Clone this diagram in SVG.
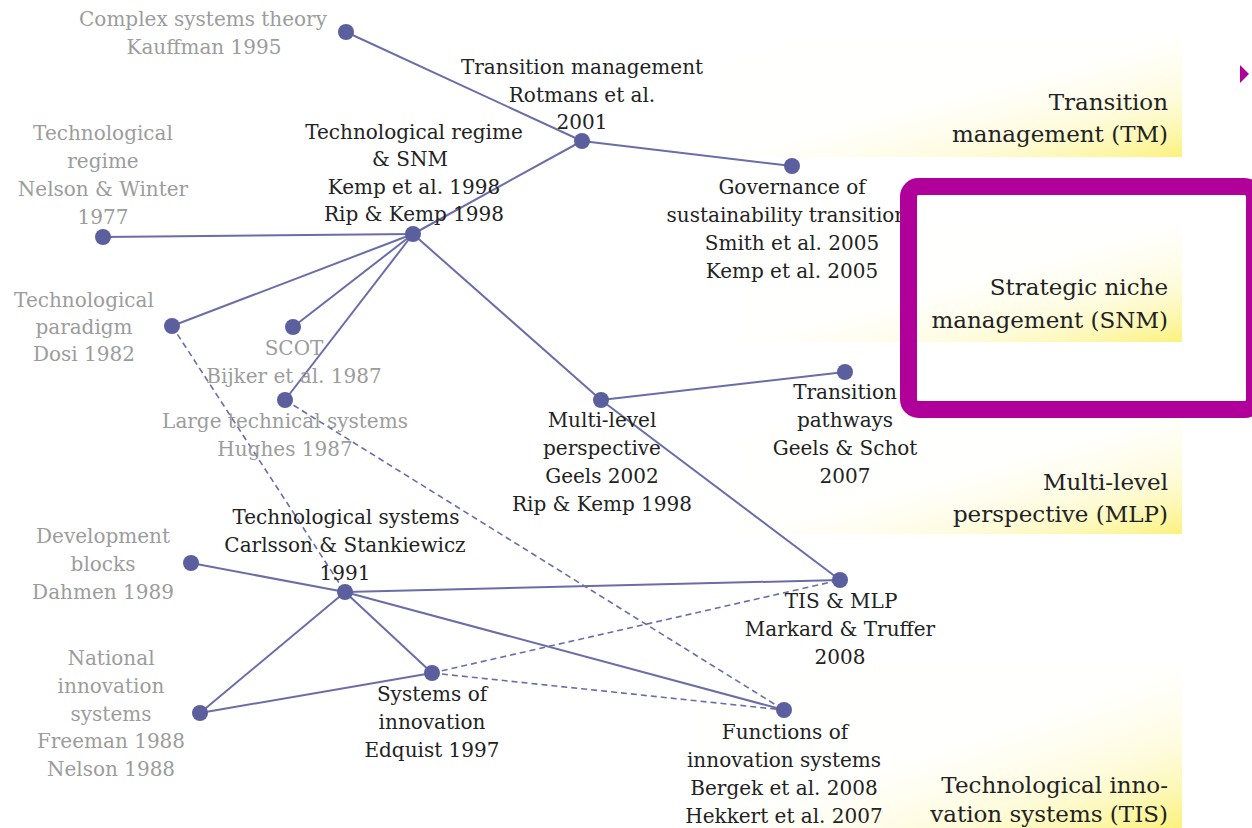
<svg xmlns="http://www.w3.org/2000/svg" width="1252" height="828" viewBox="0 0 1252 828">
<defs>
<linearGradient id="band" x1="0" y1="0" x2="1" y2="1">
<stop offset="0" stop-color="#fffbd0" stop-opacity="0"/>
<stop offset="0.5" stop-color="#fffbd0" stop-opacity="0.05"/>
<stop offset="0.75" stop-color="#fdf7b0" stop-opacity="0.45"/>
<stop offset="1" stop-color="#fbf27c" stop-opacity="1"/>
</linearGradient>
<style>
.n{font-family:"DejaVu Serif","Liberation Serif",serif;font-size:20px;text-anchor:middle;fill:#222}
.g{fill:#9c9c9c}
.b{font-family:"DejaVu Serif","Liberation Serif",serif;font-size:23px;text-anchor:end;fill:#222}
.e{stroke:#6a6da8;stroke-width:2;fill:none}
.d{stroke:#6a6da8;stroke-width:1.6;fill:none;stroke-dasharray:6 4}
.dot{fill:#5c5f9e}
</style>
</defs>
<rect width="1252" height="828" fill="#fff"/>
<g id="bands">
<rect x="720" y="35" width="462" height="122" fill="url(#band)"/>
<rect x="740" y="222" width="442" height="120" fill="url(#band)"/>
<rect x="740" y="410" width="442" height="124" fill="url(#band)"/>
<rect x="700" y="665" width="482" height="163" fill="url(#band)"/>
<text class="b" x="1168" y="110">Transition</text>
<text class="b" x="1168" y="142">management (TM)</text>
<text class="b" x="1168" y="295">Strategic niche</text>
<text class="b" x="1168" y="328">management (SNM)</text>
<text class="b" x="1168" y="490">Multi-level</text>
<text class="b" x="1168" y="522">perspective (MLP)</text>
<text class="b" x="1168" y="793">Technological inno-</text>
<text class="b" x="1168" y="822">vation systems (TIS)</text>
</g>
<g id="connectors">
<line class="e" x1="346" y1="32" x2="582" y2="141"/>
<line class="e" x1="582" y1="141" x2="792" y2="166"/>
<line class="e" x1="582" y1="141" x2="413" y2="234"/>
<line class="e" x1="103" y1="237" x2="413" y2="234"/>
<line class="e" x1="172" y1="326" x2="413" y2="234"/>
<line class="e" x1="293" y1="327" x2="413" y2="234"/>
<line class="e" x1="285" y1="400" x2="413" y2="234"/>
<line class="e" x1="413" y1="234" x2="601" y2="400"/>
<line class="e" x1="601" y1="400" x2="840" y2="580"/>
<line class="e" x1="601" y1="400" x2="845" y2="372"/>
<line class="e" x1="191" y1="563" x2="345" y2="592"/>
<line class="e" x1="345" y1="592" x2="840" y2="580"/>
<line class="e" x1="345" y1="592" x2="784" y2="710"/>
<line class="e" x1="345" y1="592" x2="432" y2="673"/>
<line class="e" x1="345" y1="592" x2="200" y2="713"/>
<line class="e" x1="200" y1="713" x2="432" y2="673"/>
<line class="d" x1="172" y1="326" x2="345" y2="592"/>
<line class="d" x1="285" y1="400" x2="784" y2="710"/>
<line class="d" x1="432" y1="673" x2="840" y2="580"/>
<line class="d" x1="432" y1="673" x2="784" y2="710"/>
</g>
<g id="n-complex"><circle class="dot" cx="346" cy="32" r="8"/><text class="n g" x="203" y="26">Complex systems theory</text><text class="n g" x="204" y="54">Kauffman 1995</text></g>
<g id="n-tm"><circle class="dot" cx="582" cy="141" r="8"/><text class="n" x="582" y="74">Transition management</text><text class="n" x="582" y="102">Rotmans et al.</text><text class="n" x="582" y="129">2001</text></g>
<g id="n-gov"><circle class="dot" cx="792" cy="166" r="8"/><text class="n" x="792" y="194">Governance of</text><text class="n" x="792" y="222">sustainability transitions</text><text class="n" x="792" y="250">Smith et al. 2005</text><text class="n" x="792" y="278">Kemp et al. 2005</text></g>
<g id="n-trsnm"><circle class="dot" cx="413" cy="234" r="8"/><text class="n" x="414" y="139">Technological regime</text><text class="n" x="410" y="166">&amp; SNM</text><text class="n" x="414" y="194">Kemp et al. 1998</text><text class="n" x="414" y="221">Rip &amp; Kemp 1998</text></g>
<g id="n-nw"><circle class="dot" cx="103" cy="237" r="8"/><text class="n g" x="103" y="140">Technological</text><text class="n g" x="103" y="168">regime</text><text class="n g" x="103" y="196">Nelson &amp; Winter</text><text class="n g" x="103" y="224">1977</text></g>
<g id="n-paradigm"><circle class="dot" cx="172" cy="326" r="8"/><text class="n g" x="84" y="307">Technological</text><text class="n g" x="84" y="334">paradigm</text><text class="n g" x="84" y="361">Dosi 1982</text></g>
<g id="n-scot"><circle class="dot" cx="293" cy="327" r="8"/><text class="n g" x="294" y="355">SCOT</text><text class="n g" x="294" y="383">Bijker et al. 1987</text></g>
<g id="n-lts"><circle class="dot" cx="285" cy="400" r="8"/><text class="n g" x="285" y="428">Large technical systems</text><text class="n g" x="285" y="456">Hughes 1987</text></g>
<g id="n-mlp"><circle class="dot" cx="601" cy="400" r="8"/><text class="n" x="602" y="427">Multi-level</text><text class="n" x="602" y="455">perspective</text><text class="n" x="602" y="483">Geels 2002</text><text class="n" x="602" y="511">Rip &amp; Kemp 1998</text></g>
<g id="n-tp"><circle class="dot" cx="845" cy="372" r="8"/><text class="n" x="845" y="399">Transition</text><text class="n" x="845" y="427">pathways</text><text class="n" x="845" y="455">Geels &amp; Schot</text><text class="n" x="845" y="483">2007</text></g>
<g id="n-ts"><circle class="dot" cx="345" cy="592" r="8"/><text class="n" x="346" y="524">Technological systems</text><text class="n" x="345" y="552">Carlsson &amp; Stankiewicz</text><text class="n" x="345" y="580">1991</text></g>
<g id="n-dev"><circle class="dot" cx="191" cy="563" r="8"/><text class="n g" x="103" y="543">Development</text><text class="n g" x="103" y="571">blocks</text><text class="n g" x="103" y="599">Dahmen 1989</text></g>
<g id="n-tismlp"><circle class="dot" cx="840" cy="580" r="8"/><text class="n" x="841" y="608">TIS &amp; MLP</text><text class="n" x="840" y="636">Markard &amp; Truffer</text><text class="n" x="840" y="664">2008</text></g>
<g id="n-nis"><circle class="dot" cx="200" cy="713" r="8"/><text class="n g" x="111" y="665">National</text><text class="n g" x="111" y="693">innovation</text><text class="n g" x="111" y="721">systems</text><text class="n g" x="111" y="748">Freeman 1988</text><text class="n g" x="111" y="776">Nelson 1988</text></g>
<g id="n-soi"><circle class="dot" cx="432" cy="673" r="8"/><text class="n" x="432" y="701">Systems of</text><text class="n" x="432" y="729">innovation</text><text class="n" x="432" y="757">Edquist 1997</text></g>
<g id="n-fis"><circle class="dot" cx="784" cy="710" r="8"/><text class="n" x="785" y="739">Functions of</text><text class="n" x="784" y="767">innovation systems</text><text class="n" x="784" y="795">Bergek et al. 2008</text><text class="n" x="784" y="823">Hekkert et al. 2007</text></g>
<g id="highlight">
<rect x="908.5" y="186.5" width="346" height="223" rx="10" fill="none" stroke="#b1009a" stroke-width="17"/>
<polygon points="1240,65 1249,74 1240,83" fill="#b1009a"/>
</g>
</svg>
